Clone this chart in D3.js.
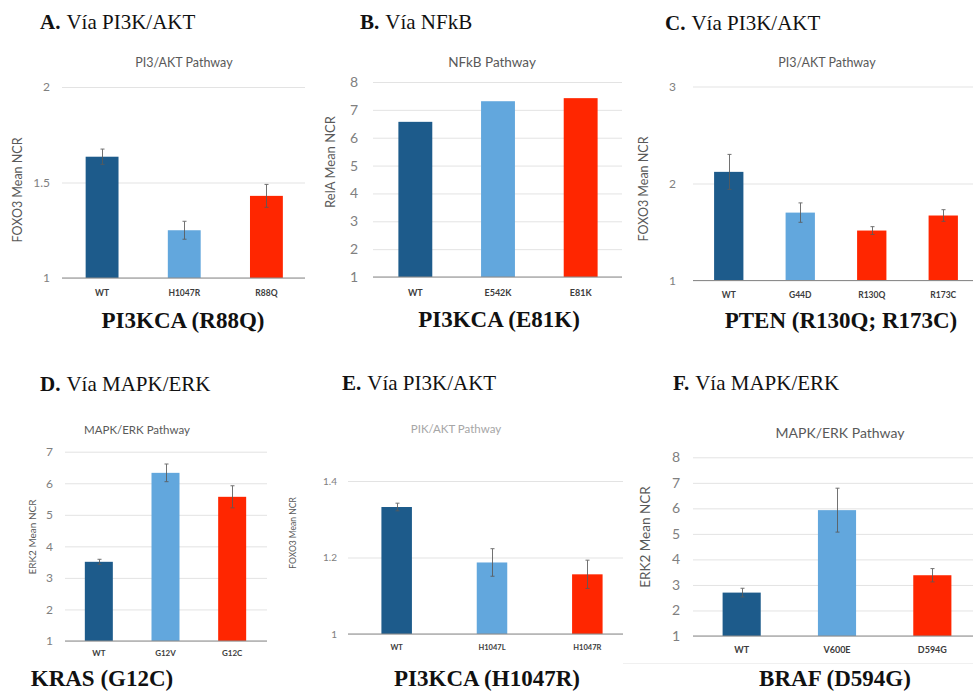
<!DOCTYPE html>
<html>
<head>
<meta charset="utf-8">
<script src="https://cdn.jsdelivr.net/npm/d3@7"></script>
<style>
  html, body { margin: 0; padding: 0; background: #fff; }
  svg { display: block; }
  .serif { font-family: "Liberation Serif", "Times New Roman", Times, "DejaVu Serif", serif; }
  .sans { font-family: Lato, "Open Sans", sans-serif; }
</style>
</head>
<body>
<svg id="fig" width="973" height="693"></svg>
<script>
// ---- Data ----
const panelLetters = ["A.", "B.", "C.", "D.", "E.", "F."];
const panelRoutes = ["Vía PI3K/AKT", "Vía NFkB", "Vía PI3K/AKT", "Vía MAPK/ERK", "Vía PI3K/AKT", "Vía MAPK/ERK"];
const chartTitles = ["PI3/AKT Pathway", "NFkB Pathway", "PI3/AKT Pathway", "MAPK/ERK Pathway", "PIK/AKT Pathway", "MAPK/ERK Pathway"];
const yAxisTitles = ["FOXO3 Mean NCR", "RelA Mean NCR", "FOXO3 Mean NCR", "ERK2 Mean NCR", "FOXO3 Mean NCR", "ERK2 Mean NCR"];
const geneTitles = ["PI3KCA (R88Q)", "PI3KCA (E81K)", "PTEN (R130Q; R173C)", "KRAS (G12C)", "PI3KCA (H1047R)", "BRAF (D594G)"];

const catsA = ["WT", "H1047R", "R88Q"];
const valsA = [1.635, 1.25, 1.43];
const errA = [0.04, 0.047, 0.06];
const ticksA = [1, 1.5, 2];

const catsB = ["WT", "E542K", "E81K"];
const valsB = [6.57, 7.31, 7.42];
const errB = [0, 0, 0];
const ticksB = [1, 2, 3, 4, 5, 6, 7, 8];

const catsC = ["WT", "G44D", "R130Q", "R173C"];
const valsC = [2.12, 1.70, 1.515, 1.67];
const errC = [0.18, 0.1, 0.04, 0.06];
const ticksC = [1, 2, 3];

const catsD = ["WT", "G12V", "G12C"];
const valsD = [3.51, 6.33, 5.57];
const errD = [0.08, 0.28, 0.35];
const ticksD = [1, 2, 3, 4, 5, 6, 7];

const catsE = ["WT", "H1047L", "H1047R"];
const valsE = [1.332, 1.187, 1.156];
const errE = [0.01, 0.036, 0.037];
const ticksE = [1, 1.2, 1.4];

const catsF = ["WT", "V600E", "D594G"];
const valsF = [2.70, 5.93, 3.38];
const errF = [0.17, 0.86, 0.26];
const ticksF = [1, 2, 3, 4, 5, 6, 7, 8];

// bar fill per category: wild type, first variant, highlighted variant(s)
const colorWT = "#1d5b8b";
const colorVar = "#62a7dd";
const colorHit = "#ff2600";
const colorsA = [colorWT, colorVar, colorHit];
const colorsB = [colorWT, colorVar, colorHit];
const colorsC = [colorWT, colorVar, colorHit, colorHit];
const colorsD = [colorWT, colorVar, colorHit];
const colorsE = [colorWT, colorVar, colorHit];
const colorsF = [colorWT, colorVar, colorHit];

const series = [
  { cats: catsA, vals: valsA, err: errA, ticks: ticksA, colors: colorsA },
  { cats: catsB, vals: valsB, err: errB, ticks: ticksB, colors: colorsB },
  { cats: catsC, vals: valsC, err: errC, ticks: ticksC, colors: colorsC },
  { cats: catsD, vals: valsD, err: errD, ticks: ticksD, colors: colorsD },
  { cats: catsE, vals: valsE, err: errE, ticks: ticksE, colors: colorsE },
  { cats: catsF, vals: valsF, err: errF, ticks: ticksF, colors: colorsF }
];

// ---- Layout of each panel (pixels) ----
const layout = [
  { band: [61, 307.5], grid: [62, 305], y: [278, 87], barFrac: 0.40, tickRight: 50, tickSize: 12,
    yTitle: [18, 190, 12.5], title: [184, 63, 12.5], xLabY: 293, xLabSize: 8.5,
    head: [40, 29], gene: [183, 328] },
  { band: [374, 622], grid: [373, 622], y: [277, 82], barFrac: 0.41, tickRight: 358, tickSize: 14,
    yTitle: [330, 162, 13], title: [492, 62, 13.5], xLabY: 293, xLabSize: 9,
    head: [360, 29], gene: [499, 327] },
  { band: [693, 979], grid: [693, 980], y: [280.5, 86.5], barFrac: 0.41, tickRight: 676, tickSize: 12,
    yTitle: [644, 189, 12.5], title: [827, 63, 12.5], xLabY: 295, xLabSize: 8.5,
    head: [665, 30], gene: [841, 328] },
  { band: [65.5, 265.5], grid: [65, 267], y: [641, 451.7], barFrac: 0.42, tickRight: 53, tickSize: 12,
    yTitle: [32, 537, 10], title: [137, 430, 11.5], xLabY: 653, xLabSize: 8,
    head: [40, 391], gene: [102, 686] },
  { band: [349, 635], grid: [348, 623], y: [634, 481], barFrac: 0.32, tickRight: 337, tickSize: 10,
    yTitle: [293, 533, 8.5], title: [456, 429, 11.5], xLabY: 647, xLabSize: 7.5,
    head: [342, 390], gene: [487, 686], titleColor: "#a6a6a6" },
  { band: [694, 980], grid: [693, 980], y: [636, 457.3], barFrac: 0.40, tickRight: 680, tickSize: 14,
    yTitle: [645, 537, 13.5], title: [840, 433, 14], xLabY: 650, xLabSize: 9,
    head: [673, 390], gene: [835, 686] }
];

const svg = d3.select("#fig");

// faint frame edge under the last chart
svg.append("line").attr("x1", 623).attr("x2", 973).attr("y1", 663.5).attr("y2", 663.5)
  .attr("stroke", "#f0f0f0").attr("stroke-width", 1);

series.forEach((s, i) => {
  const L = layout[i];
  const g = svg.append("g");

  const x = d3.scaleBand().domain(s.cats).range(L.band)
    .paddingInner(1 - L.barFrac).paddingOuter((1 - L.barFrac) / 2);
  const y = d3.scaleLinear().domain([s.ticks[0], s.ticks[s.ticks.length - 1]]).range(L.y);

  // gridlines + tick labels
  const gw = L.grid[1] - L.grid[0];
  const yAxis = g.append("g").attr("transform", `translate(${L.grid[0]},0)`)
    .call(d3.axisLeft(y).tickValues(s.ticks).tickFormat(d => String(d))
      .tickSize(-gw).tickPadding(L.grid[0] - L.tickRight));
  yAxis.select(".domain").remove();
  yAxis.selectAll(".tick line").attr("stroke", "#e3e3e3").attr("stroke-width", 1);
  yAxis.selectAll(".tick text")
    .attr("class", "sans").attr("fill", "#808080")
    .style("font-family", null).style("font-size", L.tickSize + "px");
  yAxis.attr("font-family", null);

  // bars
  g.append("g").selectAll("rect").data(s.cats).join("rect")
    .attr("x", c => x(c))
    .attr("width", x.bandwidth())
    .attr("y", (c, k) => y(s.vals[k]))
    .attr("height", (c, k) => y(s.ticks[0]) - y(s.vals[k]))
    .attr("fill", (c, k) => s.colors[k]);

  // error bars
  const eb = g.append("g").attr("stroke", "#5a5a5a").attr("stroke-width", 1).attr("opacity", 0.85);
  s.cats.forEach((c, k) => {
    if (!s.err[k]) return;
    const cx = Math.round(x(c) + x.bandwidth() / 2) + 0.5;
    const top = y(s.vals[k] + s.err[k]);
    const bot = y(s.vals[k] - s.err[k]);
    eb.append("line").attr("x1", cx).attr("x2", cx).attr("y1", top).attr("y2", bot);
    eb.append("line").attr("x1", cx - 2).attr("x2", cx + 2).attr("y1", top).attr("y2", top);
    eb.append("line").attr("x1", cx - 2).attr("x2", cx + 2).attr("y1", bot).attr("y2", bot);
  });

  // category axis baseline, drawn over the bars
  g.append("line").attr("x1", L.grid[0]).attr("x2", L.grid[1])
    .attr("y1", y(s.ticks[0])).attr("y2", y(s.ticks[0]))
    .attr("stroke", "#8c8c8c").attr("stroke-width", 1.2);

  // category labels
  const xAxis = g.append("g").attr("transform", `translate(0,${L.xLabY})`)
    .call(d3.axisBottom(x).tickSize(0).tickPadding(0));
  xAxis.select(".domain").remove();
  xAxis.attr("font-family", null);
  xAxis.selectAll(".tick text")
    .attr("class", "sans").attr("dy", "0.35em").attr("fill", "#3c3c3c")
    .style("font-weight", "bold").style("font-size", L.xLabSize + "px");

  // y axis title
  g.append("text").attr("class", "sans")
    .attr("transform", `translate(${L.yTitle[0]},${L.yTitle[1]}) rotate(-90)`)
    .attr("text-anchor", "middle").attr("dy", "0.35em")
    .attr("fill", "#595959").style("font-size", L.yTitle[2] + "px")
    .text(yAxisTitles[i]);

  // chart title
  g.append("text").attr("class", "sans")
    .attr("x", L.title[0]).attr("y", L.title[1]).attr("dy", "0.35em")
    .attr("text-anchor", "middle")
    .attr("fill", L.titleColor || "#595959").style("font-size", L.title[2] + "px")
    .text(chartTitles[i]);

  // panel heading
  const h = g.append("text").attr("class", "serif").attr("x", L.head[0]).attr("y", L.head[1])
    .attr("fill", "#111").style("font-size", "21px");
  h.append("tspan").style("font-weight", "bold").text(panelLetters[i]);
  h.append("tspan").attr("dx", 6).text(panelRoutes[i]);

  // gene / mutation title
  g.append("text").attr("class", "serif").attr("x", L.gene[0]).attr("y", L.gene[1])
    .attr("text-anchor", "middle").attr("fill", "#111")
    .style("font-weight", "bold").style("font-size", "23px")
    .text(geneTitles[i]);
});
</script>
</body>
</html>
